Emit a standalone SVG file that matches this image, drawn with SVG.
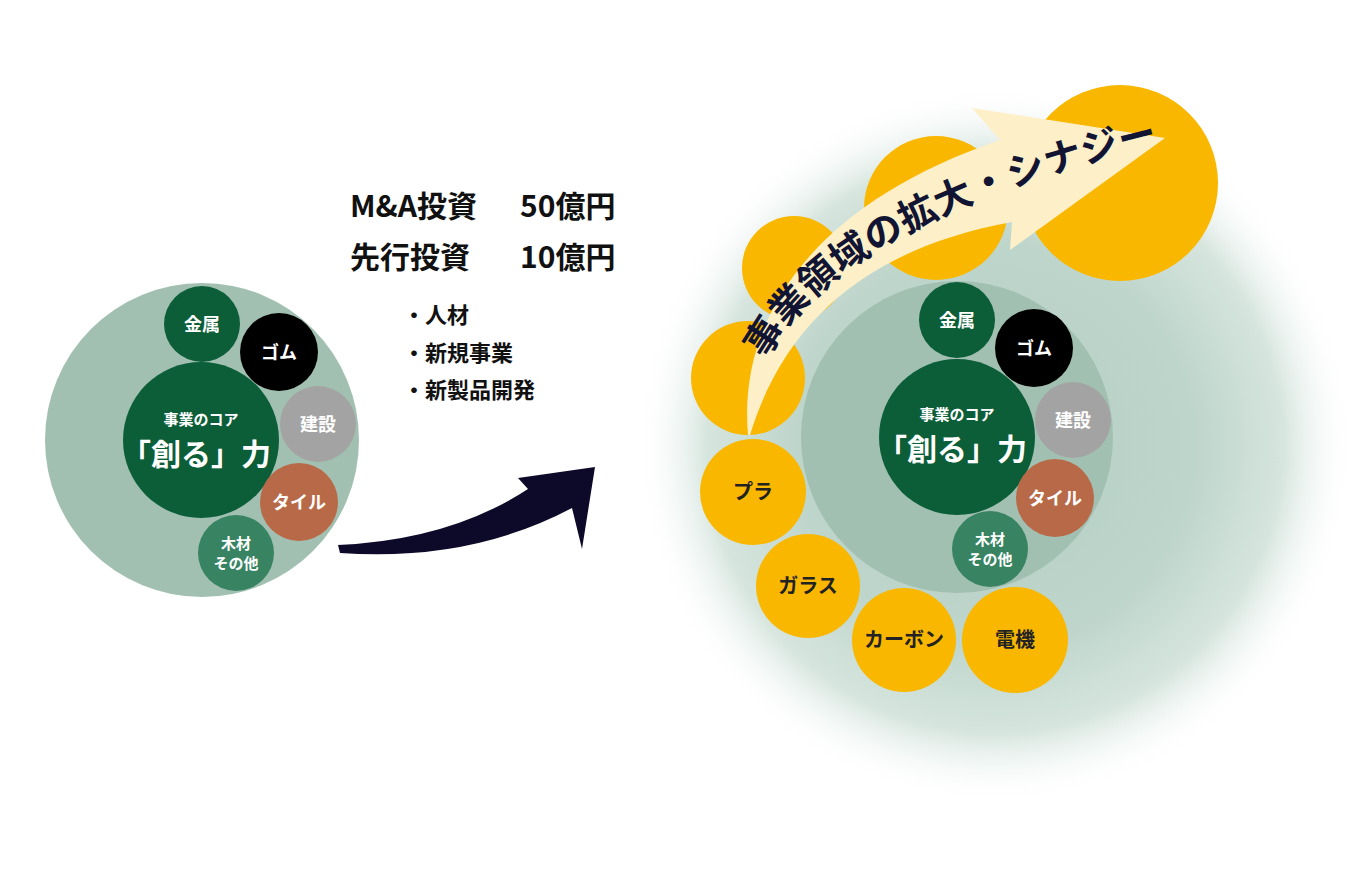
<svg xmlns="http://www.w3.org/2000/svg" width="1360" height="880" viewBox="0 0 1360 880">
<defs>
<radialGradient id="glow" cx="995" cy="445" r="360" gradientUnits="userSpaceOnUse">
<stop offset="0" stop-color="#b3cec3"/><stop offset="0.55" stop-color="#bed5cb"/><stop offset="0.8" stop-color="#d6e5de"/><stop offset="1" stop-color="#ffffff" stop-opacity="0"/>
</radialGradient>
<path id="tp" d="M 766,360 Q 840,215 1200,135"/>
</defs>
<style>
text{font-family:"Noto Sans CJK JP","Noto Sans",sans-serif;font-weight:bold}
.w{fill:#fff;text-anchor:middle}
.y{fill:#222;text-anchor:middle;font-size:20px}
.big{fill:#a2c0b2}
.g{fill:#0b5e38}.k{fill:#000}.s{fill:#a3a3a3}.t{fill:#b86a48}.m{fill:#378362}.o{fill:#f9b700}
</style>
<rect width="1360" height="880" fill="#fff"/>
<circle cx="995" cy="445" r="360" fill="url(#glow)"/>
<g id="texts">
<text x="350" y="217" font-size="30" fill="#111">M&amp;A投資</text>
<text x="520" y="217" font-size="30" fill="#111">50億円</text>
<text x="350" y="268" font-size="30" fill="#111">先行投資</text>
<text x="520" y="268" font-size="30" fill="#111">10億円</text>
<text x="403" y="323" font-size="22" fill="#111">・人材</text>
<text x="403" y="361" font-size="22" fill="#111">・新規事業</text>
<text x="403" y="398" font-size="22" fill="#111">・新製品開発</text>
</g>
<g id="left">
<circle class="big" cx="202" cy="440" r="157"/>
<g id="l-kinzoku"><circle class="g" cx="202" cy="324" r="38"/><text class="w" x="202" y="331" font-size="18">金属</text></g>
<g id="l-gomu"><circle class="k" cx="279" cy="352" r="39"/><text class="w" x="279" y="359" font-size="18">ゴム</text></g>
<g id="l-core"><circle class="g" cx="201" cy="440" r="78"/><text class="w" x="201" y="425" font-size="15">事業のコア</text><text class="w" x="196" y="465" font-size="30">「創る」力</text></g>
<g id="l-kensetsu"><circle class="s" cx="318" cy="424" r="38"/><text class="w" x="318" y="431" font-size="18">建設</text></g>
<g id="l-tile"><circle class="t" cx="299" cy="502" r="39"/><text class="w" x="299" y="509" font-size="18">タイル</text></g>
<g id="l-wood"><circle class="m" cx="236" cy="553" r="38"/><text class="w" x="236" y="549" font-size="15">木材</text><text class="w" x="236" y="569" font-size="15">その他</text></g>
</g>
<g id="connectors">
<path d="M 338,545 Q 450,540 528,489 L 518,478 L 595,467 L 582,549 L 572,508 Q 470,562 340,553 Z" fill="#0c0a28"/>
</g>
<g id="right">
<circle class="big" cx="957" cy="437" r="156"/>
<g id="r-kinzoku"><circle class="g" cx="957" cy="320" r="38"/><text class="w" x="957" y="327" font-size="18">金属</text></g>
<g id="r-gomu"><circle class="k" cx="1034" cy="348" r="39"/><text class="w" x="1034" y="355" font-size="18">ゴム</text></g>
<g id="r-core"><circle class="g" cx="957" cy="437" r="78"/><text class="w" x="957" y="420" font-size="15">事業のコア</text><text class="w" x="952" y="460" font-size="30">「創る」力</text></g>
<g id="r-kensetsu"><circle class="s" cx="1073" cy="420" r="38"/><text class="w" x="1073" y="427" font-size="18">建設</text></g>
<g id="r-tile"><circle class="t" cx="1055" cy="498" r="39"/><text class="w" x="1055" y="505" font-size="18">タイル</text></g>
<g id="r-wood"><circle class="m" cx="990" cy="549" r="38"/><text class="w" x="990" y="545" font-size="15">木材</text><text class="w" x="990" y="565" font-size="15">その他</text></g>
<circle class="o" cx="748" cy="378" r="57"/>
<circle class="o" cx="794" cy="268" r="52"/>
<circle class="o" cx="936" cy="208" r="72"/>
<circle class="o" cx="1120" cy="183" r="98"/>
<g id="pura"><circle class="o" cx="753" cy="492" r="53"/><text class="y" x="753" y="499">プラ</text></g>
<g id="glass"><circle class="o" cx="808" cy="586" r="52"/><text class="y" x="808" y="593">ガラス</text></g>
<g id="carbon"><circle class="o" cx="904" cy="640" r="52"/><text class="y" x="904" y="647">カーボン</text></g>
<g id="denki"><circle class="o" cx="1015" cy="640" r="53"/><text class="y" x="1015" y="647">電機</text></g>
</g>
<g id="bigarrow">
<path d="M 748,435 C 738,320 810,205 1000,140 L 972,108 L 1165,138 L 1010,250 L 1012,222 C 870,248 785,320 750,435 Z" fill="#fdf0c8"/>
<text font-size="38" fill="#121433" textLength="460" lengthAdjust="spacing"><textPath href="#tp">事業領域の拡大・シナジー</textPath></text>
</g>
</svg>
